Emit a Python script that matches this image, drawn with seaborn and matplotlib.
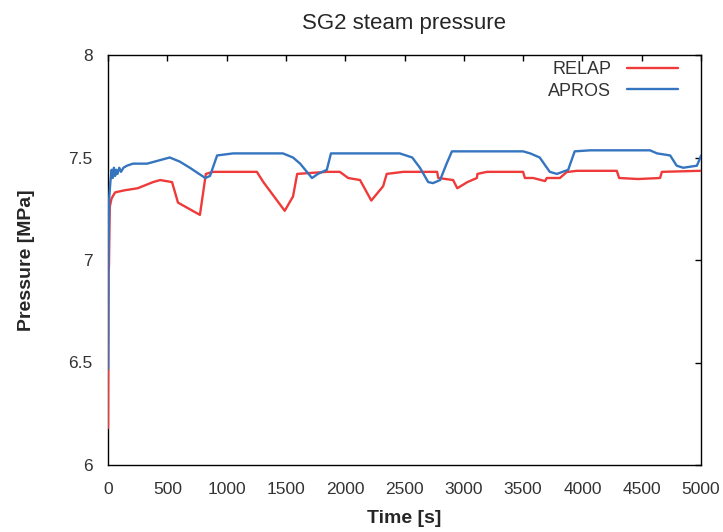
import numpy as np
import pandas as pd
import matplotlib
matplotlib.use("Agg")
import matplotlib.pyplot as plt
import seaborn as sns

relap_t = [0, 5, 8, 15, 30, 60, 140, 250, 380, 440, 540, 590, 775, 825, 885, 1255, 1310,
           1490, 1560, 1595, 1845, 1955, 2025, 2125, 2220, 2320, 2350, 2490, 2775, 2785,
           2910, 2945, 3030, 3110, 3115, 3195, 3500, 3515, 3585, 3685, 3700, 3810, 3870,
           3880, 3955, 4290, 4310, 4470, 4655, 4670, 4990, 5000]
relap_p = [6.18, 6.95, 6.97, 7.26, 7.30, 7.33, 7.34, 7.35, 7.38, 7.39, 7.38, 7.28, 7.22,
           7.42, 7.43, 7.43, 7.38, 7.24, 7.31, 7.42, 7.43, 7.43, 7.40, 7.39, 7.29, 7.36,
           7.42, 7.43, 7.43, 7.40, 7.39, 7.35, 7.38, 7.40, 7.42, 7.43, 7.43, 7.40, 7.40,
           7.385, 7.40, 7.40, 7.43, 7.43, 7.435, 7.435, 7.40, 7.395, 7.40, 7.43, 7.435,
           7.435]

apros_t = [0, 3, 10, 20, 30, 40, 50, 60, 70, 80, 95, 110, 130, 160, 210, 330, 520, 605,
           690, 820, 860, 920, 1055, 1475, 1560, 1620, 1720, 1770, 1845, 1880, 2040, 2460,
           2565, 2630, 2700, 2740, 2800, 2855, 2900, 3500, 3560, 3640, 3725, 3785, 3880,
           3935, 4065, 4570, 4630, 4740, 4795, 4850, 4965, 4995, 5000]
apros_p = [6.47, 7.0, 7.30, 7.38, 7.44, 7.40, 7.45, 7.41, 7.44, 7.42, 7.45, 7.43, 7.45,
           7.46, 7.47, 7.47, 7.50, 7.48, 7.45, 7.40, 7.41, 7.51, 7.52, 7.52, 7.50, 7.47,
           7.40, 7.42, 7.44, 7.52, 7.52, 7.52, 7.50, 7.45, 7.38, 7.375, 7.39, 7.47, 7.53,
           7.53, 7.52, 7.50, 7.43, 7.42, 7.44, 7.53, 7.535, 7.535, 7.52, 7.51, 7.46, 7.45,
           7.46, 7.50, 7.51]

x_ticks = [0, 500, 1000, 1500, 2000, 2500, 3000, 3500, 4000, 4500, 5000]
y_ticks = [6, 6.5, 7, 7.5, 8]
y_tick_labels = ["6", "6.5", "7", "7.5", "8"]

sns.set_theme(style="white")
plt.rcParams['font.family'] = ['Liberation Sans', 'DejaVu Sans']

df = pd.concat([
    pd.DataFrame({"Time": relap_t, "Pressure": relap_p, "Code": "RELAP"}),
    pd.DataFrame({"Time": apros_t, "Pressure": apros_p, "Code": "APROS"}),
], ignore_index=True)

fig = plt.figure(figsize=(7.23, 5.32), dpi=100)
ax = fig.add_axes([108/723, 1-465/532, (701-108)/723, (465-55)/532])

sns.lineplot(data=df, x="Time", y="Pressure", hue="Code",
             palette={"RELAP": "#ef3a3a", "APROS": "#3575c0"},
             sort=False, estimator=None, linewidth=1.7, ax=ax, zorder=3)

ax.set_xlim(0, 5000)
ax.set_ylim(6, 8)
ax.set_xticks(x_ticks)
ax.set_yticks(y_ticks)
ax.set_yticklabels(y_tick_labels)
ax.tick_params(axis="both", direction="in", top=True, right=True, length=4, width=1,
               labelsize=12.5, colors="black")
ax.tick_params(axis="x", pad=12.5)
ax.tick_params(axis="y", pad=11)
for lab in ax.get_xticklabels() + ax.get_yticklabels():
    lab.set_color("#333333")
for s in ax.spines.values():
    s.set_color("black")
    s.set_linewidth(1)
    s.set_zorder(2.5)

ax.set_xlabel("Time [s]", fontsize=14, fontweight="bold", labelpad=9)
ax.set_ylabel("Pressure [MPa]", fontsize=14, fontweight="bold", labelpad=24)
ax.set_title("SG2 steam pressure", fontsize=16, pad=19)

leg = ax.legend(loc="upper right", frameon=False, fontsize=13, markerfirst=False,
                handlelength=2.8, handletextpad=0.9, borderaxespad=0, borderpad=0,
                labelspacing=0.25, bbox_to_anchor=(0.961, 0.985))
for t in leg.get_texts():
    t.set_color("#333333")

fig.savefig("out.png", dpi=100)
